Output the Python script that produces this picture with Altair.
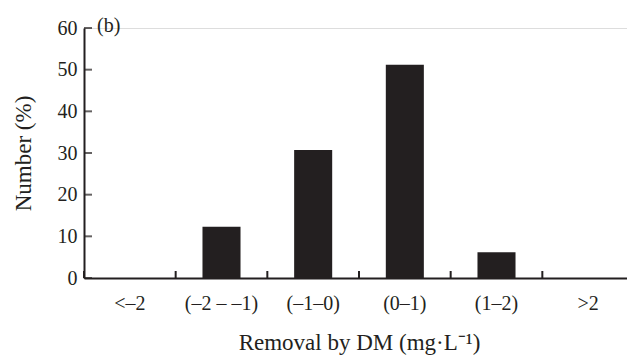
import altair as alt
import pandas as pd

categories = ["<–2", "(–2 – –1)", "(–1–0)", "(0–1)", "(1–2)", ">2"]
values = [0, 12.3, 30.7, 51.2, 6.2, 0]
y_ticks = [0, 10, 20, 30, 40, 50, 60]

df = pd.DataFrame({"cat": categories, "value": values})
cat_df = pd.DataFrame({"cat": categories})
ytick_df = pd.DataFrame({"value": y_ticks})

W, H = 543, 250
FONT = "Liberation Serif"
INK = "#231f20"

xscale = alt.Scale(domain=categories, range=[0, 550], paddingInner=0, paddingOuter=0)
yscale = alt.Scale(domain=[0, 60], nice=False, zero=True)

bars = alt.Chart(df).mark_bar(color=INK, width=alt.RelativeBandSize(0.415)).encode(
    x=alt.X("cat:N", sort=categories, scale=xscale,
            axis=alt.Axis(title="Removal by DM (mg·L⁻¹)", labelAngle=0, ticks=False,
                          labelPadding=15, titlePadding=18, domainWidth=2, domainColor=INK,
                          labelFont=FONT, labelFontSize=20, labelColor=INK,
                          titleFont=FONT, titleFontSize=23, titleFontWeight="normal", titleColor=INK,
                          grid=False)),
    y=alt.Y("value:Q", scale=yscale,
            axis=alt.Axis(title="Number (%)", values=y_ticks, ticks=False,
                          labelPadding=7, titlePadding=22, domainWidth=2, domainColor=INK,
                          labelFont=FONT, labelFontSize=20, labelColor=INK,
                          titleFont=FONT, titleFontSize=23, titleFontWeight="normal", titleColor=INK,
                          grid=False)),
)

xticks = alt.Chart(cat_df).mark_rule(color=INK, strokeWidth=2).encode(
    x=alt.X("cat:N", sort=categories, bandPosition=0),
    y=alt.value(H - 7),
    y2=alt.value(H),
)

yticks = alt.Chart(ytick_df).mark_tick(color=INK, thickness=2, size=8, orient="horizontal").encode(
    y=alt.Y("value:Q", scale=yscale),
    x=alt.value(4),
)

chart = alt.layer(bars, xticks, yticks).properties(
    width=W, height=H,
    title=alt.TitleParams("(b)", anchor="start", frame="group", dx=13, dy=28, offset=0,
                          baseline="middle", font=FONT, fontSize=20,
                          fontWeight="normal", color=INK),
    autosize=alt.AutoSizeParams(type="none"),
    padding={"left": 84, "top": 28, "right": 0, "bottom": 78},
).configure_view(stroke=None).configure(background="white")

chart.save("out.html", embed_options={"renderer": "svg", "actions": False})
